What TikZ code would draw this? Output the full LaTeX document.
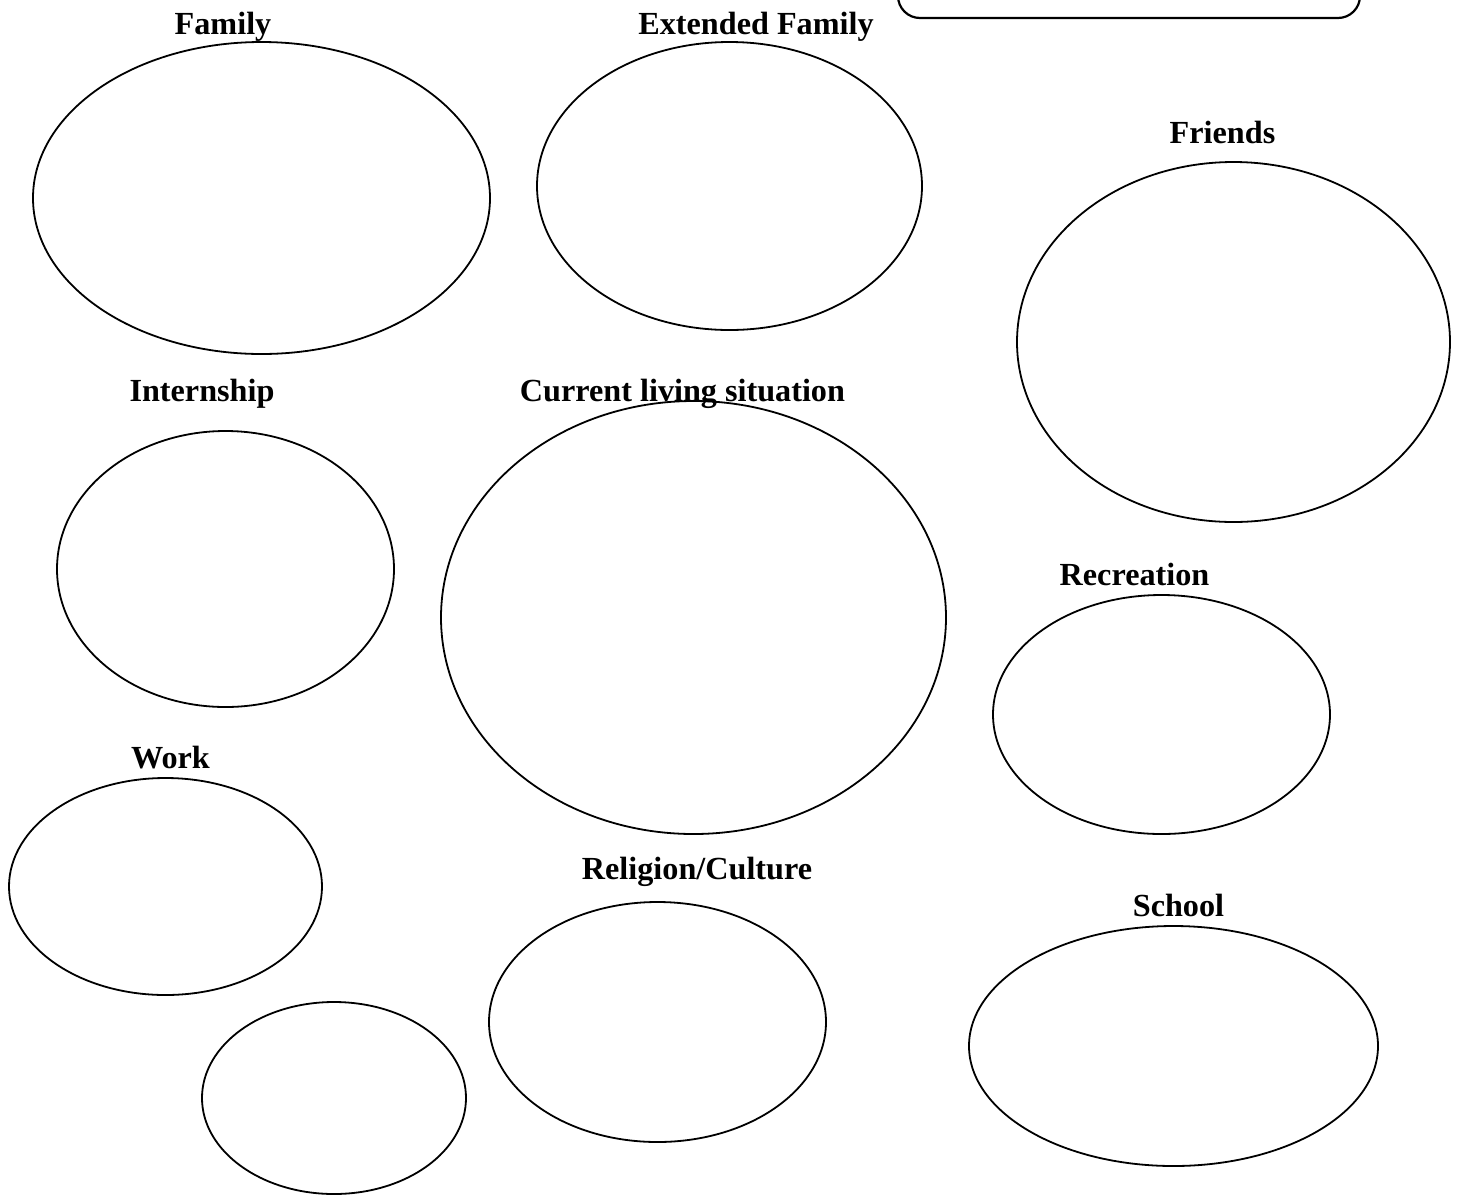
\documentclass[tikz,border=0pt]{standalone}
\usepackage{fontspec}
\setmainfont{Liberation Serif}
\usetikzlibrary{shapes.geometric}
\begin{document}
\begin{tikzpicture}[x=1pt,y=-1pt,
  bub/.style={draw=black,line width=1.8pt,ellipse,inner sep=0pt},
  lab/.style={font=\fontsize{32.2}{36}\selectfont\bfseries,anchor=base,inner sep=0pt}]
\useasboundingbox (0,0) rectangle (1457,1195);
\begin{scope}
\clip (0,0) rectangle (1457,1195);
\draw[line width=2.2pt,rounded corners=22pt] (898,-40) -- (898,18) -- (1360,18) -- (1360,-40);
\end{scope}
\node[bub,minimum width=457pt,minimum height=312pt] (family) at (261.5,198) {};
\node[bub,minimum width=385pt,minimum height=288pt] (extended) at (729.5,186) {};
\node[bub,minimum width=433pt,minimum height=360pt] (friends) at (1233.5,342) {};
\node[bub,minimum width=337pt,minimum height=276pt] (internship) at (225.5,569) {};
\node[bub,minimum width=505pt,minimum height=433pt] (current) at (693.5,617.5) {};
\node[bub,minimum width=337pt,minimum height=239pt] (recreation) at (1161.5,714.5) {};
\node[bub,minimum width=313pt,minimum height=217pt] (work) at (165.5,886.5) {};
\node[bub,minimum width=264pt,minimum height=192pt] (extra) at (334,1098) {};
\node[bub,minimum width=337pt,minimum height=240pt] (religion) at (657.5,1022) {};
\node[bub,minimum width=409pt,minimum height=240pt] (school) at (1173.5,1046) {};
\node[lab] (tfamily) at (223,34) {Family};
\node[lab] (textended) at (756,34) {Extended Family};
\node[lab] (tfriends) at (1222.5,143) {Friends};
\node[lab] (tinternship) at (202,401) {Internship};
\node[lab] (tcurrent) at (682.5,401) {Current living situation};
\node[lab] (trecreation) at (1134.5,585) {Recreation};
\node[lab] (twork) at (170.5,768) {Work};
\node[lab] (treligion) at (697,879) {Religion/Culture};
\node[lab] (tschool) at (1178.5,916) {School};
\end{tikzpicture}
\end{document}
